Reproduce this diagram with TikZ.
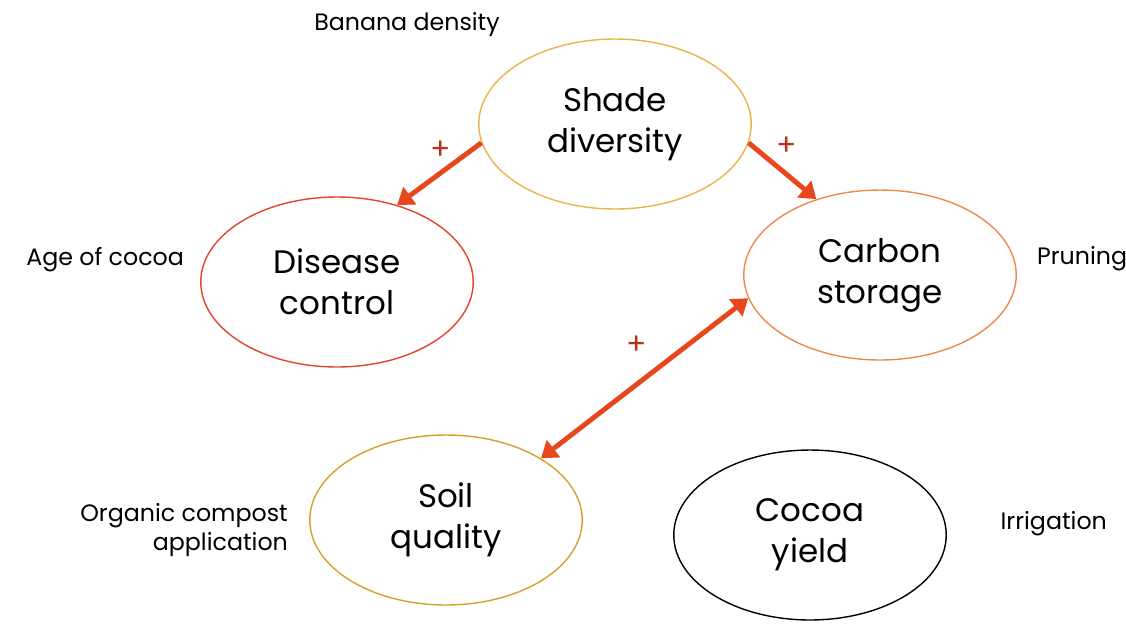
\documentclass[tikz,border=0pt]{standalone}
\usepackage{fontspec}
\setmainfont{Poppins}
\usetikzlibrary{positioning, shapes.geometric, arrows.meta}

\definecolor{arrowred}{HTML}{E8471E}
\definecolor{plusred}{HTML}{B8321E}
\definecolor{shadegold}{HTML}{E9B54A}
\definecolor{diseasered}{HTML}{E2452F}
\definecolor{carbonorange}{HTML}{EE8A4E}
\definecolor{soilgold}{HTML}{D3A22A}

\begin{document}
\begin{tikzpicture}[
x=0.02cm, y=-0.02cm,
myellipse/.style={ellipse,
  draw=#1,
  line width=0.8pt,
  minimum width=5.45cm,
  minimum height=3.4cm,
  inner sep=0pt,
  align=center,
  font=\fontsize{18.5}{23.5}\selectfont
},
mylabel/.style={
  font=\fontsize{13.5}{16}\selectfont
},
myarrow/.style={
  line width=2.8pt,
  arrowred,
  -{Triangle[length=9pt,width=12pt]}
},
myplus/.style={
  plusred,
  font=\fontsize{17}{17}\selectfont
},
]
\useasboundingbox (0,0) rectangle (1126,627);

% the five ellipses
\node[myellipse=shadegold] (shade) at (615,124)
    {Shade\\diversity};
\node[myellipse=diseasered] (disease) at (337,282)
    {Disease\\control};
\node[myellipse=carbonorange] (carbon) at (880,275)
    {Carbon\\storage};
\node[myellipse=soilgold] (soil) at (446,520)
    {Soil\\quality};
\node[myellipse=black] (yield) at (810,535)
    {Cocoa\\yield};

% side labels
\node[mylabel] (banana) at (407,25)
    {Banana density};
\node[mylabel, left=0.2cm of disease, yshift=0.45cm] (age)
    {Age of cocoa};
\node[mylabel, right=0.28cm of carbon, yshift=0.33cm] (pruning)
    {Pruning};
\node[mylabel, align=right, left=0.3cm of soil, yshift=-0.2cm] (compost)
    {Organic compost\\application};
\node[mylabel, right=0.95cm of yield, yshift=0.22cm] (irrigation)
    {Irrigation};

% arrows
\draw[myarrow] (shade.188) -- (disease.52);
\draw[myarrow] (shade.352) -- (carbon.130);
\draw[myarrow, {Triangle[length=9pt,width=12pt]}-{Triangle[length=9pt,width=12pt]}] (soil.33) -- (carbon.190);

% signs
\node[myplus] (p1) at (441,150) {+};
\node[myplus] (p2) at (787,146) {+};
\node[myplus] (p3) at (637,345) {+};
\end{tikzpicture}
\end{document}
